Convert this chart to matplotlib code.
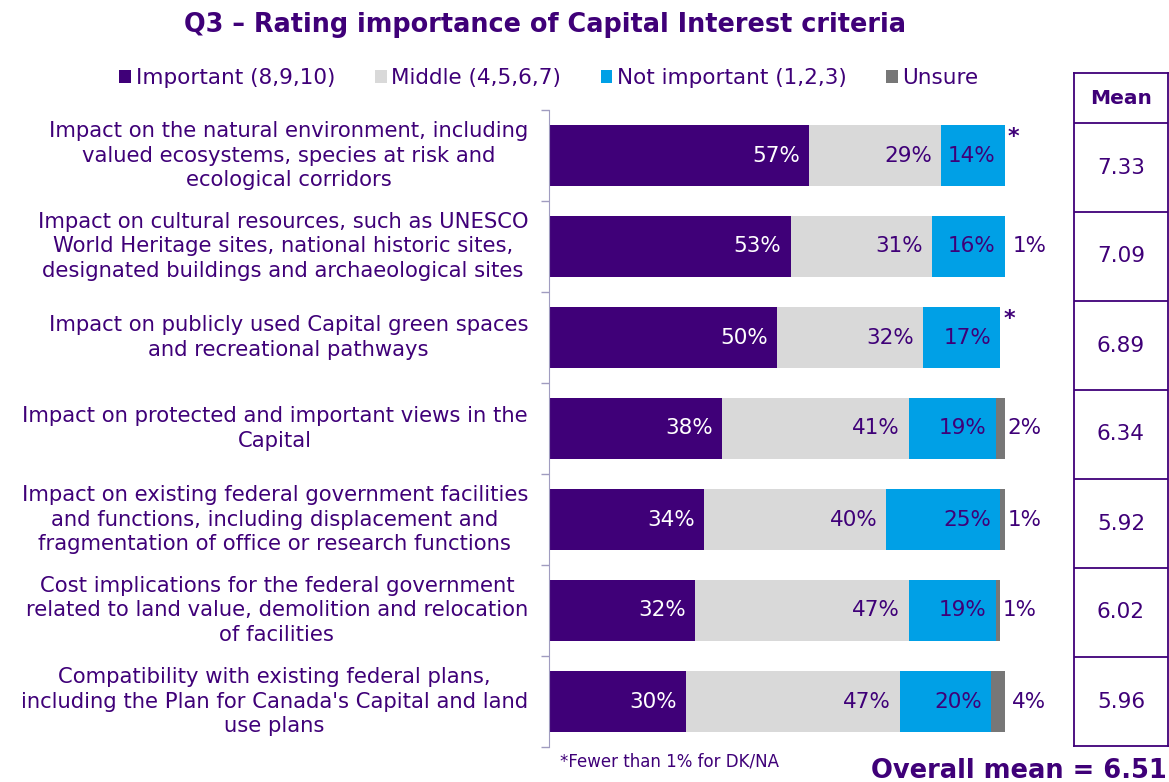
import matplotlib
matplotlib.use("Agg")
import matplotlib.pyplot as plt
import numpy as np

plt.rcParams['font.family'] = ['DejaVu Sans']

categories = [
    "Impact on the natural environment, including\nvalued ecosystems, species at risk and\necological corridors",
    "Impact on cultural resources, such as UNESCO\nWorld Heritage sites, national historic sites,\ndesignated buildings and archaeological sites",
    "Impact on publicly used Capital green spaces\nand recreational pathways",
    "Impact on protected and important views in the\nCapital",
    "Impact on existing federal government facilities\nand functions, including displacement and\nfragmentation of office or research functions",
    "Cost implications for the federal government\nrelated to land value, demolition and relocation\nof facilities",
    "Compatibility with existing federal plans,\nincluding the Plan for Canada's Capital and land\nuse plans",
]
important = [57, 53, 50, 38, 34, 32, 30]
middle = [29, 31, 32, 41, 40, 47, 47]
not_important = [14, 16, 17, 19, 25, 19, 20]
unsure = [0, 1, 0, 2, 1, 1, 4]
starred = [True, False, True, False, False, False, False]
means = ["7.33", "7.09", "6.89", "6.34", "5.92", "6.02", "5.96"]
overall_mean = "6.51"

series_names = ["Important (8,9,10)", "Middle (4,5,6,7)", "Not important (1,2,3)", "Unsure"]
colors = ["#3F0078", "#D9D9D9", "#00A0E6", "#777777"]
purple = "#3F0078"

W, H = 1169, 782
fig = plt.figure(figsize=(W / 100, H / 100), dpi=100)

ax = fig.add_axes([549 / W, (H - 747) / H, 456 / W, (747 - 110) / H])
y = np.arange(len(categories))
left = np.zeros(len(categories))
series = [important, middle, not_important, unsure]
for vals, col, name in zip(series, colors, series_names):
    ax.barh(y, vals, left=left, height=0.66, color=col, label=name)
    left += np.array(vals)

fs = 15.5
for i in range(len(categories)):
    ax.text(important[i] - 2, i, f"{important[i]}%", color="white", ha="right", va="center", fontsize=fs)
    e = important[i] + middle[i]
    ax.text(e - 2, i, f"{middle[i]}%", color=purple, ha="right", va="center", fontsize=fs)
    e2 = e + not_important[i]
    ax.text(e2 - 2, i, f"{not_important[i]}%", color=purple, ha="right", va="center", fontsize=fs)
    if unsure[i] > 0:
        ax.text(e2 + unsure[i] + 0.6, i, f"{unsure[i]}%", color=purple, ha="left", va="center", fontsize=fs)
    if starred[i]:
        ax.text(e2 + 0.6, i - 0.2, "*", color=purple, ha="left", va="center", fontsize=16, fontweight="bold")
    ax.text(-4.6, i, categories[i], color=purple, ha="right", va="center", ma="center",
            fontsize=15.2, linespacing=1.3)

ax.set_xlim(0, 100)
ax.set_ylim(len(categories) - 0.5, -0.5)
ax.set_xticks([])
ax.set_yticks(np.arange(-0.5, len(categories), 1))
ax.set_yticklabels([])
ax.tick_params(axis="y", direction="out", length=6, color="#A09CC0", width=1)
for s in ["top", "right", "bottom"]:
    ax.spines[s].set_visible(False)
ax.spines["left"].set_color("#A09CC0")

fig.legend(*ax.get_legend_handles_labels(), loc="center", bbox_to_anchor=(549 / W, (H - 78) / H),
           ncol=4, frameon=False, fontsize=15.5, handlelength=0.55, handleheight=0.55,
           handletextpad=0.2, columnspacing=1.85, labelcolor=purple)

fig.text(545 / W, (H - 25) / H, "Q3 \u2013 Rating importance of Capital Interest criteria",
         ha="center", va="center", fontsize=18.4, fontweight="bold", color=purple)

# mean table
tx0, tx1, ty0, ty1 = 1074, 1168, 73, 746
tab = fig.add_axes([tx0 / W, (H - ty1) / H, (tx1 - tx0) / W, (ty1 - ty0) / H])
tab.set_xlim(0, 1)
header_h = 50 / 89
tab.set_ylim(len(means), -header_h)
tab.set_xticks([])
tab.set_yticks([])
for s in tab.spines.values():
    s.set_color(purple)
    s.set_linewidth(1.3)
tab.text(0.5, -header_h / 2, "Mean", ha="center", va="center", fontsize=14.5, fontweight="bold", color=purple)
for i, m in enumerate(means):
    tab.axhline(i, color=purple, lw=1.3)
    tab.text(0.5, i + 0.5, m, ha="center", va="center", fontsize=15.5, color=purple)

fig.text(560 / W, (H - 762) / H, "*Fewer than 1% for DK/NA", ha="left", va="center", fontsize=12, color=purple)
fig.text(1167 / W, (H - 771) / H, "Overall mean = " + overall_mean, ha="right", va="center",
         fontsize=18.5, fontweight="bold", color=purple)

fig.savefig("out.png", dpi=100)
